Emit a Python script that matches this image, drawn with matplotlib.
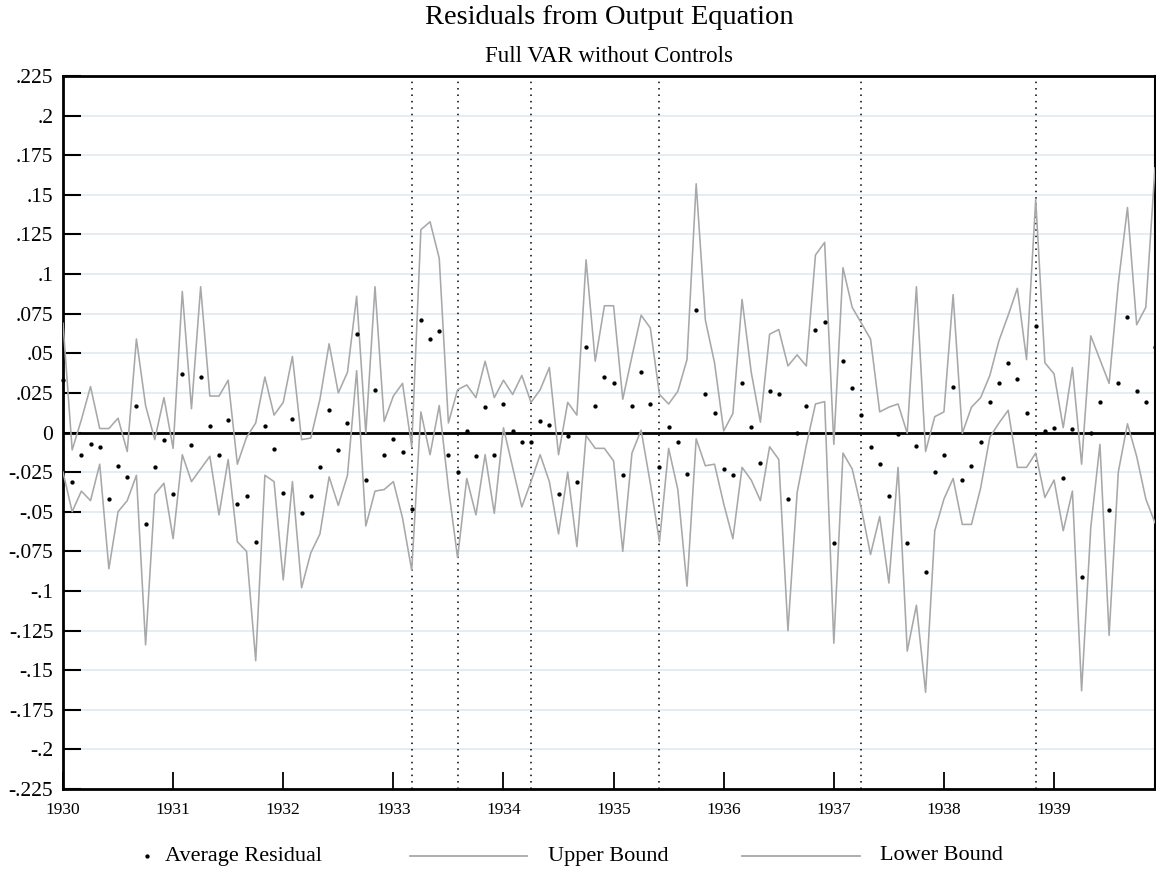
import numpy as np
import matplotlib
matplotlib.use("Agg")
import matplotlib.pyplot as plt
from matplotlib.lines import Line2D

plt.rcParams['font.family'] = ['Liberation Serif', 'DejaVu Serif']

# monthly data, Jan 1930 - Dec 1939
start_year = 1930
n_months = 120

upper = [
    0.069, -0.011, 0.008, 0.029, 0.0025, 0.0025, 0.009, -0.012, 0.059, 0.017, -0.0045, 0.022,
    -0.010, 0.089, 0.015, 0.092, 0.023, 0.023, 0.033, -0.020, -0.003, 0.006, 0.035, 0.011,
    0.019, 0.048, -0.0045, -0.0035, 0.021, 0.056, 0.025, 0.038, 0.086, -0.0005, 0.092, 0.007,
    0.023, 0.031, -0.009, 0.128, 0.133, 0.110, 0.006, 0.027, 0.030, 0.022, 0.045, 0.022,
    0.033, 0.024, 0.036, 0.019, 0.027, 0.041, -0.014, 0.019, 0.011, 0.109, 0.045, 0.080,
    0.080, 0.021, 0.048, 0.074, 0.066, 0.024, 0.018, 0.026, 0.046, 0.157, 0.071, 0.044,
    0.001, 0.012, 0.084, 0.038, 0.0065, 0.062, 0.065, 0.042, 0.049, 0.042, 0.112, 0.120,
    -0.0075, 0.104, 0.079, 0.069, 0.059, 0.013, 0.016, 0.018, -0.0005, 0.092, -0.012, 0.010,
    0.013, 0.087, -0.0005, 0.016, 0.022, 0.036, 0.058, 0.074, 0.091, 0.046, 0.147, 0.044,
    0.037, 0.003, 0.041, -0.020, 0.061, 0.046, 0.031, 0.094, 0.142, 0.068, 0.079, 0.167,
]

lower = [
    -0.025, -0.050, -0.037, -0.043, -0.020, -0.086, -0.050, -0.043, -0.027, -0.134, -0.039, -0.032,
    -0.067, -0.014, -0.031, -0.023, -0.015, -0.052, -0.017, -0.069, -0.075, -0.144, -0.027, -0.031,
    -0.093, -0.031, -0.098, -0.076, -0.064, -0.028, -0.046, -0.027, 0.039, -0.059, -0.037, -0.036,
    -0.031, -0.054, -0.087, 0.013, -0.014, 0.017, -0.035, -0.079, -0.029, -0.052, -0.014, -0.051,
    0.003, -0.022, -0.047, -0.031, -0.014, -0.031, -0.064, -0.025, -0.072, -0.002, -0.010, -0.010,
    -0.018, -0.075, -0.013, 0.0015, -0.032, -0.069, -0.010, -0.036, -0.097, -0.004, -0.021, -0.020,
    -0.045, -0.067, -0.022, -0.030, -0.043, -0.009, -0.017, -0.125, -0.038, -0.008, 0.018, 0.0195,
    -0.133, -0.013, -0.023, -0.048, -0.077, -0.053, -0.095, -0.022, -0.138, -0.109, -0.164, -0.062,
    -0.042, -0.029, -0.058, -0.058, -0.035, -0.003, 0.006, 0.014, -0.022, -0.022, -0.013, -0.041,
    -0.030, -0.062, -0.037, -0.163, -0.060, -0.0075, -0.128, -0.025, 0.0055, -0.015, -0.042, -0.057,
]

avg_resid = [
    0.033, -0.031, -0.014, -0.0075, -0.009, -0.042, -0.021, -0.028, 0.017, -0.058, -0.022, -0.005,
    -0.039, 0.037, -0.008, 0.035, 0.004, -0.014, 0.008, -0.045, -0.040, -0.069, 0.004, -0.0105,
    -0.038, 0.0085, -0.051, -0.040, -0.022, 0.014, -0.011, 0.006, 0.062, -0.030, 0.027, -0.014,
    -0.004, -0.012, -0.048, 0.071, 0.059, 0.064, -0.014, -0.025, 0.001, -0.015, 0.016, -0.014,
    0.018, 0.001, -0.006, -0.006, 0.007, 0.005, -0.039, -0.0025, -0.031, 0.054, 0.017, 0.035,
    0.031, -0.027, 0.017, 0.038, 0.018, -0.022, 0.0035, -0.006, -0.026, 0.077, 0.024, 0.012,
    -0.023, -0.027, 0.031, 0.0035, -0.019, 0.026, 0.024, -0.042, 0.000, 0.017, 0.065, 0.070,
    -0.070, 0.045, 0.028, 0.011, -0.009, -0.020, -0.040, -0.001, -0.070, -0.0085, -0.088, -0.025,
    -0.0145, 0.029, -0.030, -0.021, -0.006, 0.019, 0.031, 0.044, 0.034, 0.012, 0.067, 0.001,
    0.003, -0.029, 0.002, -0.091, 0.000, 0.019, -0.049, 0.031, 0.073, 0.026, 0.019, 0.054,
]

# (year, month) of the dotted vertical markers
event_months = [(1933, 3), (1933, 8), (1934, 4), (1935, 6), (1937, 4), (1938, 11)]

x_tick_years = [1930, 1931, 1932, 1933, 1934, 1935, 1936, 1937, 1938, 1939]
y_tick_labels = [".225", ".2", ".175", ".15", ".125", ".1", ".075", ".05", ".025", "0",
                 "-.025", "-.05", "-.075", "-.1", "-.125", "-.15", "-.175", "-.2", "-.225"]
y_ticks = [float(s) for s in y_tick_labels]

dates = start_year + np.arange(n_months) / 12.0
events = [y + (m - 1) / 12.0 for y, m in event_months]

W, H = 1156, 873
fig = plt.figure(figsize=(W / 100, H / 100), dpi=100)
ax = fig.add_axes([63 / W, 1 - 789 / H, (1155 - 63) / W, (789 - 76) / H])

gray = '#a8a8a8'
for yt in y_ticks:
    if yt != 0:
        ax.axhline(yt, color='#e4edf1', lw=1.4, zorder=0)
ax.axhline(0, color='black', lw=2.0, zorder=3)
for ev in events:
    ax.axvline(ev, color='black', lw=1.1, ls=(0, (1, 3.2)), zorder=2)

ax.plot(dates, upper, color=gray, lw=1.15, zorder=4)
ax.plot(dates, lower, color=gray, lw=1.15, zorder=4)
ax.plot(dates, avg_resid, 'o', color='black', ms=3.1, mec='none', zorder=5, clip_on=False)

ax.set_xlim(dates[0], dates[-1])
ax.set_ylim(y_ticks[-1], y_ticks[0])
ax.set_yticks(y_ticks)
ax.set_yticklabels(y_tick_labels, fontsize=15.5)
ax.set_xticks(x_tick_years)
ax.set_xticklabels([str(y) for y in x_tick_years], fontsize=12.5)
ax.tick_params(axis='y', direction='in', length=13, width=1.5, pad=7)
ax.tick_params(axis='x', direction='in', length=12, width=1.3, pad=9)
for side in ['left', 'bottom', 'top']:
    ax.spines[side].set_linewidth(2.0)
ax.spines['right'].set_linewidth(1.5)

fig.text(0.527, 1 - 18 / H, "Residuals from Output Equation", ha='center', va='center', fontsize=20.5)
fig.text(0.527, 1 - 57 / H, "Full VAR without Controls", ha='center', va='center', fontsize=16.5)

# legend row
ly = 1 - 856 / H
fig.add_artist(Line2D([147 / W], [ly], marker='o', ms=3.1, color='black', mec='none',
                      transform=fig.transFigure))
fig.text(165 / W, ly, "Average Residual", ha='left', va='center', fontsize=16)
fig.add_artist(Line2D([410 / W, 527 / W], [ly, ly], color=gray, lw=1.3, transform=fig.transFigure))
fig.text(548 / W, ly, "Upper Bound", ha='left', va='center', fontsize=16)
fig.add_artist(Line2D([742 / W, 860 / W], [ly, ly], color=gray, lw=1.3, transform=fig.transFigure))
fig.text(880 / W, ly, "Lower Bound", ha='left', va='center', fontsize=16)

fig.savefig("out.png", dpi=100)
